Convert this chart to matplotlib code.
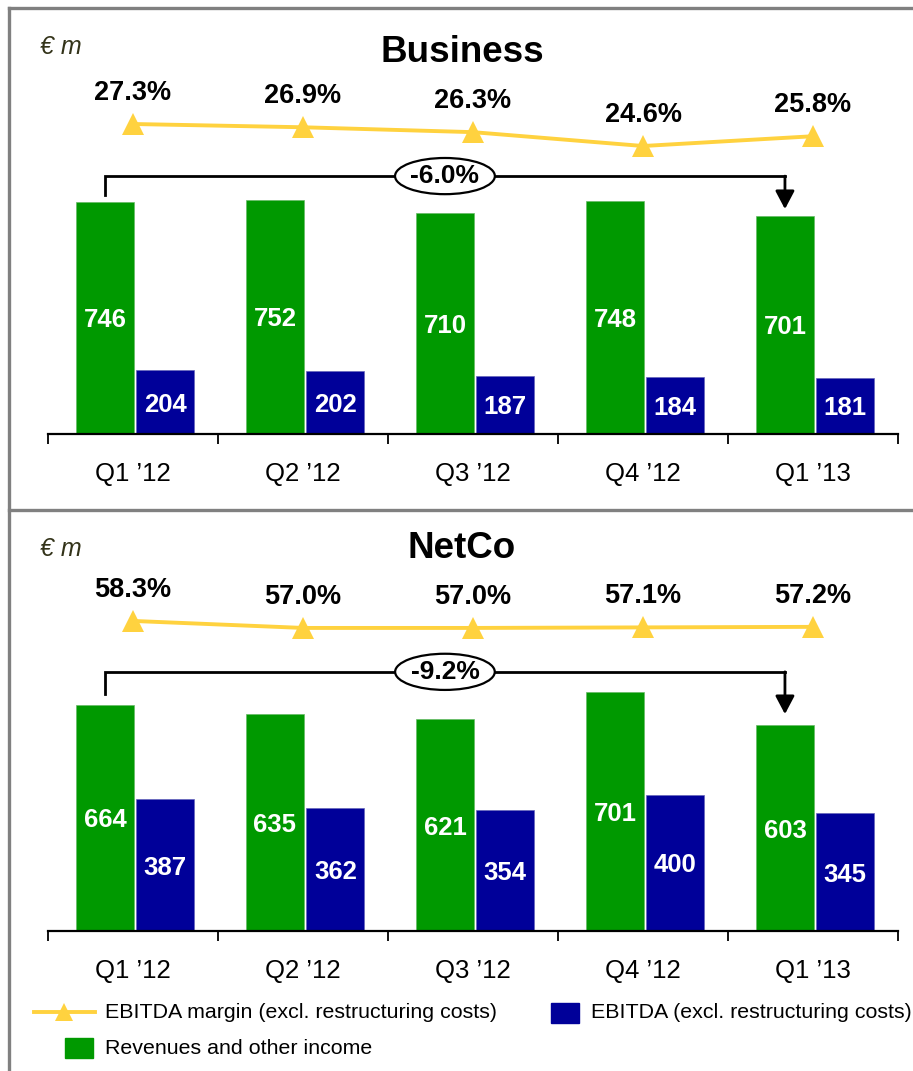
import matplotlib
matplotlib.use("Agg")
import matplotlib.pyplot as plt
from matplotlib.lines import Line2D
from matplotlib.patches import Rectangle

plt.rcParams['font.family'] = ['Liberation Sans', 'DejaVu Sans']

# data
quarters = ["Q1 \u201912", "Q2 \u201912", "Q3 \u201912", "Q4 \u201912", "Q1 \u201913"]
biz_revenue = [746, 752, 710, 748, 701]
biz_ebitda = [204, 202, 187, 184, 181]
biz_margin = [27.3, 26.9, 26.3, 24.6, 25.8]
biz_change = "-6.0%"
net_revenue = [664, 635, 621, 701, 603]
net_ebitda = [387, 362, 354, 400, 345]
net_margin = [58.3, 57.0, 57.0, 57.1, 57.2]
net_change = "-9.2%"

GREEN = '#009900'
BLUE = '#000099'
YELLOW = '#FFD23F'
GRAY = '#808080'

W, H = 913, 1071
fig = plt.figure(figsize=(W / 100, H / 100), dpi=100)


def fx(x):
    return x / W


def fy(y):
    return 1 - y / H


def panel(top, bottom, bar_max, m_lim, revenue, ebitda, margin, change, bracket, title, title_y):
    ax = fig.add_axes([fx(48), fy(bottom), fx(898) - fx(48), fy(top) - fy(bottom)])
    x = list(range(len(quarters)))
    xg = [i - 0.165 for i in x]
    xb = [i + 0.19 for i in x]
    ax.bar(xg, revenue, width=0.34, color=GREEN, edgecolor='#66bb66', linewidth=0.5)
    ax.bar(xb, ebitda, width=0.34, color=BLUE, edgecolor='#6666bb', linewidth=0.5)
    for xi, v in zip(xg, revenue):
        ax.text(xi, v / 2, str(v), ha='center', va='center_baseline', color='white',
                fontsize=18.5, fontweight='bold')
    for xi, v in zip(xb, ebitda):
        ax.text(xi, v / 2, str(v), ha='center', va='center_baseline', color='white',
                fontsize=18.5, fontweight='bold')
    ax.set_xlim(-0.5, len(quarters) - 0.5)
    ax.set_ylim(0, bar_max)
    for s in ['top', 'right', 'left']:
        ax.spines[s].set_visible(False)
    ax.spines['bottom'].set_linewidth(1.6)
    ax.set_yticks([])
    ax.set_xticks([i - 0.5 for i in range(len(quarters) + 1)])
    ax.set_xticklabels([])
    ax.tick_params(axis='x', which='major', length=7, width=1.3, direction='out')
    ax.set_xticks(x, minor=True)
    ax.set_xticklabels(quarters, minor=True, fontsize=18.5)
    ax.tick_params(axis='x', which='minor', length=0, pad=20)

    # change bracket
    line_y, start_y, tip_y = bracket
    x0, x1 = xg[0], xg[-1]
    ax.plot([x0, x0, x1], [start_y, line_y, line_y], color='black', lw=2,
            solid_joinstyle='miter')
    ax.annotate('', xy=(x1, tip_y), xytext=(x1, line_y),
                arrowprops=dict(arrowstyle='-|>,head_width=0.29,head_length=0.55',
                                color='black', lw=2, mutation_scale=20,
                                shrinkA=0, shrinkB=0))
    ax.text((x0 + x1) / 2, line_y, change, ha='center', va='center',
            fontsize=19, fontweight='bold',
            bbox=dict(boxstyle='ellipse,pad=0.03', fc='white', ec='black', lw=1.6))

    # margin line
    ax2 = ax.twinx()
    ax2.set_ylim(*m_lim)
    ax2.plot(x, margin, color=YELLOW, lw=2.8, marker='^', ms=16,
             markeredgewidth=0, zorder=3)
    for xi, m in zip(x, margin):
        ax2.annotate(f"{m:.1f}%", (xi, m), xytext=(0, 17.5), textcoords='offset points',
                     ha='center', va='baseline', fontsize=19.5, fontweight='bold')
    ax2.axis('off')

    fig.text(fx(462), fy(title_y), title, ha='center', va='center',
             fontsize=26.5, fontweight='bold')
    fig.text(fx(40), fy(top + 37), '\u20ac m', ha='left', va='center',
             fontsize=18, style='italic', color='#333319')
    return ax


panel(10, 434, 424 / 0.3115, (-10.74, 41.29), biz_revenue, biz_ebitda, biz_margin,
      biz_change, (828, 767, 722), 'Business', 53)
panel(512, 931, 419 / 0.341, (0.72, 78.53), net_revenue, net_ebitda, net_margin,
      net_change, (760, 695, 636), 'NetCo', 548)

# panel frame
for xs, ys in [([9, 913], [8, 8]), ([9, 9], [8, 1071]), ([9, 913], [510, 510])]:
    fig.add_artist(Line2D([fx(v) for v in xs], [fy(v) for v in ys],
                          color=GRAY, lw=2.4))

# legend
fig.add_artist(Line2D([fx(34), fx(95)], [fy(1012), fy(1012)], color=YELLOW, lw=2.8))
fig.add_artist(Line2D([fx(64)], [fy(1012)], marker='^', ms=13, color=YELLOW,
                      markeredgewidth=0, ls=''))
fig.text(fx(105), fy(1013), 'EBITDA margin (excl. restructuring costs)',
         ha='left', va='center', fontsize=15.4)
fig.add_artist(Rectangle((fx(551), fy(1023)), fx(579) - fx(551), fy(1003) - fy(1023),
                         color=BLUE))
fig.text(fx(591), fy(1013), 'EBITDA (excl. restructuring costs)',
         ha='left', va='center', fontsize=15.4)
fig.add_artist(Rectangle((fx(65), fy(1058)), fx(93) - fx(65), fy(1038) - fy(1058),
                         color=GREEN))
fig.text(fx(105), fy(1049), 'Revenues and other income',
         ha='left', va='center', fontsize=15.4)

fig.savefig('out.png', dpi=100)
